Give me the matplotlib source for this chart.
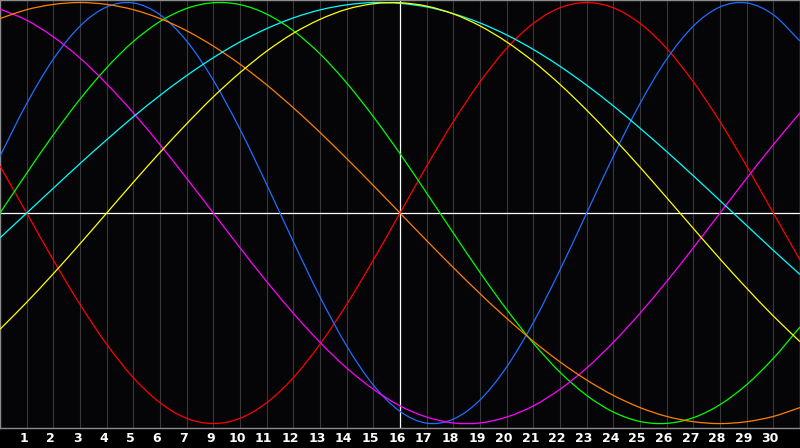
import matplotlib
matplotlib.use("Agg")
from matplotlib import pyplot as plt
from matplotlib.path import Path
from matplotlib.patches import PathPatch
from matplotlib.transforms import ScaledTranslation
import numpy as np

# day slots along the x axis (gridline index 0..30)
days = list(range(31))
day_labels = ["1", "2", "3", "4", "5", "6", "7", "9", "10", "11", "12", "13", "14", "15",
              "16", "17", "18", "19", "20", "21", "22", "23", "24", "25", "26", "27", "28",
              "29", "30"]
today = 15

# values, one per gridline
red = [0.223, 0.000, -0.223, -0.434, -0.623, -0.782, -0.901, -0.975, -1.000, -0.975,
       -0.901, -0.782, -0.623, -0.434, -0.223, 0.000, 0.223, 0.434, 0.623, 0.782,
       0.901, 0.975, 1.000, 0.975, 0.901, 0.782, 0.623, 0.434, 0.223, 0.000, -0.223]
blue = [0.270, 0.520, 0.731, 0.888, 0.979, 0.998, 0.942, 0.817, 0.631, 0.398, 0.136,
        -0.136, -0.398, -0.631, -0.817, -0.942, -0.998, -0.979, -0.888, -0.731, -0.520,
        -0.270, 0.000, 0.270, 0.520, 0.731, 0.888, 0.979, 0.998, 0.942, 0.817]
green = [0.000, 0.189, 0.372, 0.541, 0.690, 0.815, 0.910, 0.972, 0.999, 0.990, 0.945,
         0.866, 0.756, 0.618, 0.458, 0.282, 0.095, -0.095, -0.282, -0.458, -0.618,
         -0.756, -0.866, -0.945, -0.990, -0.999, -0.972, -0.910, -0.815, -0.690, -0.541]
magenta = [0.969, 0.916, 0.837, 0.736, 0.614, 0.476, 0.325, 0.165, 0.000, -0.165,
           -0.325, -0.476, -0.614, -0.736, -0.837, -0.916, -0.969, -0.997, -0.997,
           -0.969, -0.916, -0.837, -0.736, -0.614, -0.476, -0.325, -0.165, 0.000,
           0.165, 0.325, 0.476]
orange = [0.924, 0.966, 0.991, 1.000, 0.991, 0.966, 0.924, 0.866, 0.793, 0.707, 0.609,
          0.500, 0.383, 0.259, 0.131, 0.000, -0.131, -0.259, -0.383, -0.500, -0.609,
          -0.707, -0.793, -0.866, -0.924, -0.966, -0.991, -1.000, -0.991, -0.966, -0.924]
cyan = [-0.118, 0.000, 0.118, 0.235, 0.348, 0.457, 0.559, 0.653, 0.738, 0.813, 0.876,
        0.927, 0.965, 0.989, 1.000, 0.996, 0.979, 0.947, 0.903, 0.846, 0.777, 0.697,
        0.607, 0.509, 0.403, 0.292, 0.177, 0.059, -0.059, -0.177, -0.292]
yellow = [-0.552, -0.424, -0.288, -0.146, 0.000, 0.146, 0.288, 0.424, 0.552, 0.667,
          0.769, 0.854, 0.920, 0.968, 0.994, 0.999, 0.983, 0.946, 0.889, 0.813, 0.720,
          0.611, 0.489, 0.357, 0.218, 0.073, -0.073, -0.218, -0.357, -0.489, -0.611]

series = [
    (red, "#ff0000"),
    (blue, "#1e6eff"),
    (green, "#00ff00"),
    (magenta, "#ff00ff"),
    (orange, "#ff8000"),
    (cyan, "#00ffff"),
    (yellow, "#ffff00"),
]


def smooth_path(xs, ys):
    # catmull-rom through the read points, drawn as cubic bezier segments
    pts = np.column_stack([xs, ys]).astype(float)
    ext = np.vstack([2 * pts[0] - pts[1], pts, 2 * pts[-1] - pts[-2]])
    verts = [pts[0]]
    codes = [Path.MOVETO]
    for i in range(1, len(ext) - 2):
        p0, p1, p2, p3 = ext[i - 1], ext[i], ext[i + 1], ext[i + 2]
        verts += [p1 + (p2 - p0) / 6, p2 - (p3 - p1) / 6, p2]
        codes += [Path.CURVE4] * 3
    return Path(verts, codes)


fig = plt.figure(figsize=(8, 4.48), dpi=100, facecolor="black")
ax = fig.add_axes([0, 20 / 448, 1, 428 / 448])
ax.set_facecolor("#050508")

for d in days[1:-1]:
    if d != today:
        ax.axvline(d, color="#38383c", lw=0.8, zorder=1)

ax.axhline(0, color="white", lw=0.9, zorder=2)
ax.axvline(today, color="white", lw=0.9, zorder=2)

for vals, col in series:
    ax.add_patch(PathPatch(smooth_path(days, vals), facecolor="none",
                           edgecolor=col, lw=0.9, zorder=3))

ax.set_xlim(0, 30)
ax.set_ylim(-1.021, 1.012)
ax.set_yticks([])
ax.set_xticks(days[1:-1])
ax.set_xticklabels(day_labels)
ax.tick_params(axis="x", length=0, pad=3, colors="white", labelsize=9)
shift = ScaledTranslation(-3 / 100, 0, fig.dpi_scale_trans)
for lbl in ax.get_xticklabels():
    lbl.set_fontweight("bold")
    lbl.set_transform(lbl.get_transform() + shift)

for side in ax.spines.values():
    side.set_color("#8a8a8a")
    side.set_linewidth(1.0)

fig.savefig("out.png", dpi=100, facecolor="black")
